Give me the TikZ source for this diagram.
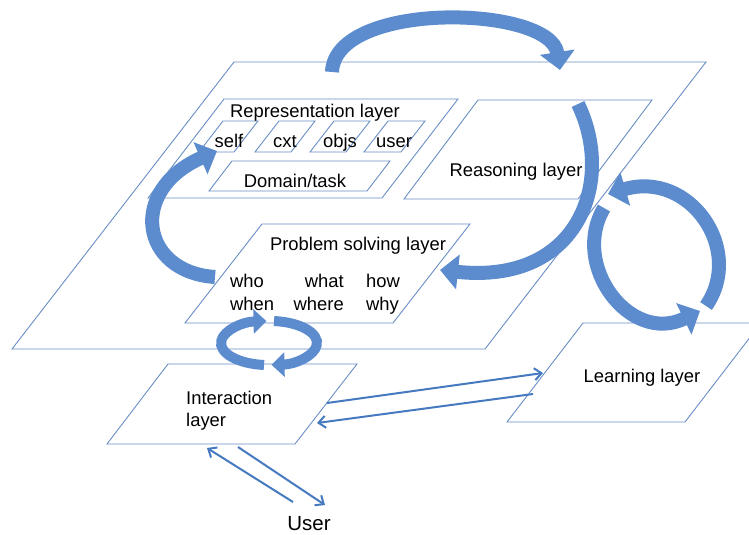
\documentclass[tikz,border=0pt]{standalone}
\usepackage{fontspec}
\setmainfont{Liberation Sans}
\usepackage{tikz}
\usetikzlibrary{arrows.meta}
\usepackage{xcolor}
\definecolor{planeline}{RGB}{104,142,196}
\definecolor{flowblue}{RGB}{92,140,206}
\definecolor{linkblue}{RGB}{70,122,192}

\begin{document}
\begin{tikzpicture}[x=1pt,y=-1pt,
  plane/.style={draw=planeline,line width=0.9pt,line join=miter},
  txt/.style={font=\fontsize{18.4}{22}\selectfont,inner sep=0pt},
  flow/.style={draw=flowblue,line width=14pt,-{Triangle[length=18pt,width=34pt]}},
  ring/.style={draw=flowblue,line width=10pt,-{Triangle[length=13pt,width=24pt]}},
  link/.style={draw=linkblue,line width=2pt,-{Straight Barb[length=7pt,width=12pt]}}
]
\useasboundingbox (0,0) rectangle (749,535);

% Planes
\draw[plane] (234,62) -- (706,62) -- (485,349) -- (12,349) -- cycle;
\draw[plane] (224,99) -- (458,99) -- (382,198) -- (148,198) -- cycle;
\draw[plane] (223,121) -- (258,121) -- (234,152) -- (199,152) -- cycle;
\draw[plane] (279,121) -- (315,121) -- (291,152) -- (255,152) -- cycle;
\draw[plane] (334,121) -- (370,121) -- (346,152) -- (310,152) -- cycle;
\draw[plane] (388,121) -- (425,121) -- (401,152) -- (364,152) -- cycle;
\draw[plane] (232,161) -- (390,161) -- (367,191) -- (209,191) -- cycle;
\draw[plane] (478,100) -- (652,100) -- (578,199) -- (404,199) -- cycle;
\draw[plane] (262,224) -- (470,224) -- (393,323) -- (185,323) -- cycle;
\draw[plane] (168,364) -- (357,364) -- (295,444) -- (107,444) -- cycle;
\draw[plane] (583,323) -- (761,323) -- (685,422) -- (507,422) -- cycle;

% Ends of the connectors
\coordinate (rep-top) at (332,72);
\coordinate (reason-in) at (560,70);
\coordinate (reason-out) at (578,104);
\coordinate (prob-in) at (440,270);
\coordinate (prob-out) at (215,277);
\coordinate (self-in) at (217,151);
\coordinate (learn-up) at (706,306);
\coordinate (reason-side-in) at (608,194);
\coordinate (reason-side-out) at (604,208);
\coordinate (learn-up-in) at (700,311);
\coordinate (prob-ring) at (274,321);
\coordinate (inter-ring) at (264,365);
\coordinate (inter-out) at (327,403);
\coordinate (learn-in) at (543,373);
\coordinate (learn-out) at (533,394);
\coordinate (inter-in) at (317,423);
\coordinate (user-out) at (293,502);
\coordinate (inter-low-in) at (207,448);
\coordinate (inter-low-out) at (238,447);
\coordinate (user-in) at (325,505);

% Block arrows
\draw[flow] (rep-top) .. controls (335,0) and (550,5) .. (reason-in);
\draw[flow] (reason-out) .. controls (615,180) and (580,285) .. (prob-in);
\draw[flow] (prob-out) .. controls (140,272) and (128,190) .. (self-in);
\draw[flow] (learn-up) .. controls (745,250) and (690,170) .. (reason-side-in);
\draw[flow] (reason-side-out) .. controls (570,265) and (630,345) .. (learn-up-in);
\draw[ring] (prob-ring) arc[start angle=-84,end angle=87,x radius=48,y radius=22];
\draw[ring] (inter-ring) arc[start angle=96,end angle=267,x radius=48,y radius=22];

% Texts
\node[txt,anchor=base] (rep) at (315,117) {Representation layer};
\node[txt,anchor=base] (self) at (229,147) {self};
\node[txt,anchor=base] (cxt) at (285,147) {cxt};
\node[txt,anchor=base] (objs) at (340,147) {objs};
\node[txt,anchor=base] (usr) at (394,147) {user};
\node[txt,anchor=base] (domain) at (295,187) {Domain/task};
\node[txt,anchor=base] (reason) at (516,176) {Reasoning layer};
\node[txt,anchor=base] (prob) at (358,250) {Problem solving layer};
\node[txt,anchor=base west] (who) at (230,287) {who};
\node[txt,anchor=base east] (what) at (344,287) {what};
\node[txt,anchor=base west] (how) at (366,287) {how};
\node[txt,anchor=base west] (when) at (230,310) {when};
\node[txt,anchor=base east] (where) at (344,310) {where};
\node[txt,anchor=base west] (why) at (366,310) {why};
\node[txt,anchor=north west,align=left] (inter) at (186,391) {Interaction\\layer};
\node[txt,anchor=base] (learn) at (642,382) {Learning layer};
\node[txt,anchor=base,font=\fontsize{20.5}{24}\selectfont] (user) at (309,530) {User};

% Thin arrows
\draw[link] (inter-out) -- (learn-in);
\draw[link] (learn-out) -- (inter-in);
\draw[link] (user-out) -- (inter-low-in);
\draw[link] (inter-low-out) -- (user-in);

\end{tikzpicture}
\end{document}
